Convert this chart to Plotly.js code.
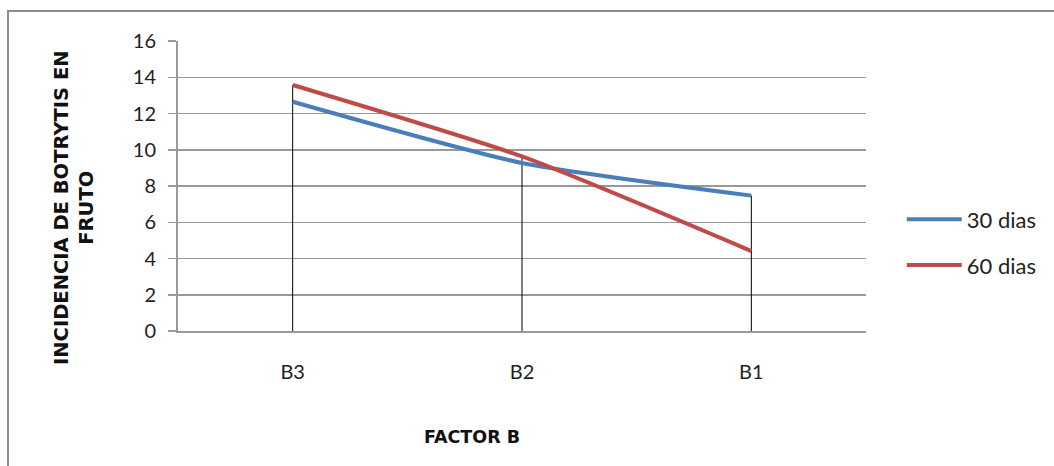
<!DOCTYPE html>
<html>
<head>
<meta charset="utf-8">
<script src="https://cdn.plot.ly/plotly-3.0.1.min.js"></script>
<style>
  html, body { margin: 0; padding: 0; background: #ffffff; }
  #chart { width: 1054px; height: 466px; }
</style>
</head>
<body>
<div id="chart"></div>
<script>
// ---- data ----
const categories = ["B3", "B2", "B1"];
const dias30 = [12.65, 9.27, 7.47];
const dias60 = [13.57, 9.63, 4.41];
const seriesNames = ["30 dias", "60 dias"];
const yTickValues = [0, 2, 4, 6, 8, 10, 12, 14, 16];

// high-low (drop) lines built from the data
const dropX = [], dropY = [];
categories.forEach((c, i) => {
  dropX.push(c, c, null);
  dropY.push(0, Math.max(dias30[i], dias60[i]), null);
});

const FONT = "Lato, Open Sans, sans-serif";
const TITLE_FONT = "DejaVu Sans, sans-serif";

const traces = [
  {
    x: dropX, y: dropY, type: "scatter", mode: "lines",
    line: { color: "#000000", width: 1 },
    showlegend: false, hoverinfo: "skip"
  },
  {
    x: categories, y: dias30, name: seriesNames[0], type: "scatter", mode: "lines",
    line: { color: "#4A7EBB", width: 4, shape: "spline", smoothing: 0.6 },
    legendgroup: "a"
  },
  {
    x: categories, y: dias60, name: seriesNames[1], type: "scatter", mode: "lines",
    line: { color: "#BE4B48", width: 4, shape: "spline", smoothing: 0.6 },
    legendgroup: "b"
  }
];

const layout = {
  width: 1054, height: 466,
  paper_bgcolor: "#ffffff", plot_bgcolor: "#ffffff",
  margin: { l: 178, r: 188, t: 41, b: 135 },
  font: { family: FONT, color: "#222222", size: 20 },
  showlegend: true,
  legend: {
    x: 1.052, y: 0.305, xanchor: "left", yanchor: "middle",
    traceorder: "grouped", tracegroupgap: 14, itemwidth: 55,
    font: { family: FONT, size: 22, color: "#222222" },
    bgcolor: "rgba(0,0,0,0)", borderwidth: 0
  },
  xaxis: {
    type: "category",
    range: [-0.5, 2.5],
    showgrid: false, zeroline: false,
    showline: true, linecolor: "#999999", linewidth: 2,
    ticks: "", ticklabelstandoff: 22,
    tickfont: { family: FONT, size: 20, color: "#222222" },
    fixedrange: true
  },
  yaxis: {
    range: [0, 16],
    tickvals: yTickValues,
    showgrid: true, gridcolor: "#999999", gridwidth: 1.5,
    zeroline: false,
    showline: true, linecolor: "#999999", linewidth: 2,
    ticks: "outside", ticklen: 8, tickcolor: "#999999", tickwidth: 1.5,
    ticklabelstandoff: 8,
    tickfont: { family: FONT, size: 20, color: "#222222" },
    fixedrange: true
  },
  annotations: [
    {
      text: "<b>INCIDENCIA DE BOTRYTIS EN<br>FRUTO</b>",
      xref: "paper", yref: "paper",
      x: (74 - 178) / 688, y: (331 - 208) / 290,
      xanchor: "center", yanchor: "middle",
      textangle: -90, showarrow: false,
      font: { family: TITLE_FONT, size: 19.5, color: "#111111" }
    },
    {
      text: "<b>FACTOR B</b>",
      xref: "paper", yref: "paper",
      x: (472 - 178) / 688, y: (331 - 437) / 290,
      xanchor: "center", yanchor: "middle",
      showarrow: false,
      font: { family: TITLE_FONT, size: 17.5, color: "#111111" }
    }
  ],
  shapes: [
    {
      type: "rect", xref: "paper", yref: "paper",
      x0: (8 - 178) / 688, x1: (1070 - 178) / 688,
      y0: (331 - 480) / 290, y1: (331 - 11) / 290,
      line: { color: "#8c8c8c", width: 2 }, fillcolor: "rgba(0,0,0,0)",
      layer: "below"
    }
  ]
};

Plotly.newPlot("chart", traces, layout, { staticPlot: true, displayModeBar: false });
</script>
</body>
</html>
